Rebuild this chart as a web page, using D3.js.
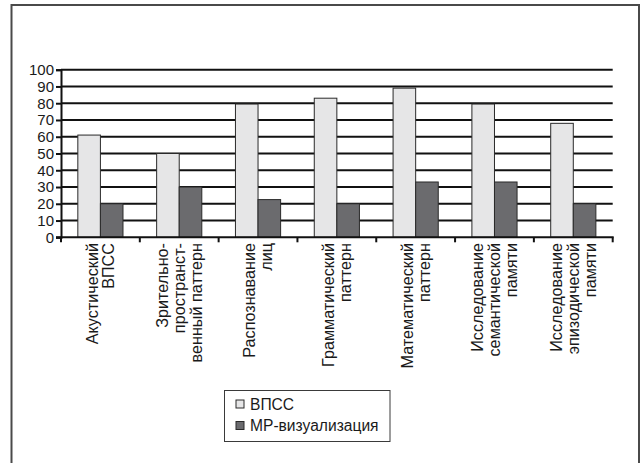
<!DOCTYPE html>
<html>
<head>
<meta charset="utf-8">
<script src="https://cdn.jsdelivr.net/npm/d3@7"></script>
<style>
  html, body { margin: 0; padding: 0; background: #fff; }
  svg { display: block; }
  text { font-family: "Liberation Sans", Arial, sans-serif; fill: #1a1a1a; }
</style>
</head>
<body>
<svg id="chart" width="642" height="463"></svg>
<script>
// Category labels, one entry per line of the rotated label
const categories = [
  ["Акустический", "ВПСС"],
  ["Зрительно-", "пространст-", "венный паттерн"],
  ["Распознавание", "лиц"],
  ["Грамматический", "паттерн"],
  ["Математический", "паттерн"],
  ["Исследование", "семантической", "памяти"],
  ["Исследование", "эпизодической", "памяти"]
];
const seriesNames = ["ВПСС", "МР-визуализация"];
const vpssValues = [61, 50, 79.5, 83, 89, 79.5, 68];
const mrValues = [20, 30, 22.5, 20, 33, 33, 20];
const yTicks = [0, 10, 20, 30, 40, 50, 60, 70, 80, 90, 100];
const colors = ["#e6e6e7", "#6b6b6e"];

const svg = d3.select("#chart");

// Outer frame (bottom edge runs off the page)
svg.append("rect")
  .attr("x", 11.5).attr("y", 5)
  .attr("width", 627.5).attr("height", 480)
  .attr("fill", "none").attr("stroke", "#4a4a4a").attr("stroke-width", 2);

const plot = { left: 61, right: 612.7, top: 69.7, bottom: 237.3 };

const x = d3.scaleBand()
  .domain(d3.range(categories.length))
  .range([plot.left, plot.right])
  .paddingInner(0).paddingOuter(0);

const inner = d3.scaleBand()
  .domain([0, 1])
  .range([0, x.bandwidth()])
  .paddingOuter(0.745).paddingInner(0);

const y = d3.scaleLinear().domain([0, 100]).range([plot.bottom, plot.top]);

// Horizontal gridlines
svg.append("g")
  .selectAll("line")
  .data(yTicks.filter(d => d > 0))
  .join("line")
  .attr("x1", plot.left).attr("x2", plot.right)
  .attr("y1", d => y(d)).attr("y2", d => y(d))
  .attr("stroke", "#111").attr("stroke-width", 2);

// Bars
const rows = categories.map((c, i) => [vpssValues[i], mrValues[i]]);
const groups = svg.append("g")
  .selectAll("g")
  .data(rows)
  .join("g")
  .attr("transform", (d, i) => `translate(${x(i)},0)`);

groups.selectAll("rect")
  .data(d => d.map((v, s) => ({ v, s })))
  .join("rect")
  .attr("x", d => inner(d.s))
  .attr("width", inner.bandwidth())
  .attr("y", d => y(d.v))
  .attr("height", d => y(0) - y(d.v))
  .attr("fill", d => colors[d.s])
  .attr("stroke", "#2a2a2a").attr("stroke-width", 1);

// Y axis
const yAxis = d3.axisLeft(y).tickValues(yTicks).tickSize(5).tickPadding(2).tickFormat(d3.format("d"));
const gy = svg.append("g")
  .attr("transform", `translate(${plot.left},0)`)
  .call(yAxis);
gy.select(".domain").attr("stroke", "#111").attr("stroke-width", 2);
gy.selectAll(".tick line").attr("stroke", "#111").attr("stroke-width", 2);
gy.selectAll(".tick text").style("font-size", "15px").attr("fill", "#1a1a1a");

// X axis: baseline with ticks at category boundaries
const gx = svg.append("g");
gx.append("line")
  .attr("x1", plot.left - 5).attr("x2", plot.right + 1)
  .attr("y1", plot.bottom).attr("y2", plot.bottom)
  .attr("stroke", "#111").attr("stroke-width", 2);
gx.selectAll("line.tk")
  .data(d3.range(categories.length + 1))
  .join("line")
  .attr("class", "tk")
  .attr("x1", i => i < categories.length ? x(i) : plot.right)
  .attr("x2", i => i < categories.length ? x(i) : plot.right)
  .attr("y1", plot.bottom).attr("y2", plot.bottom + 5)
  .attr("stroke", "#111").attr("stroke-width", 2);

// Rotated category labels
const lineH = 16.8;
const labels = svg.append("g")
  .selectAll("text")
  .data(categories)
  .join("text")
  .attr("transform", (d, i) => {
    const cx = x(i) + x.bandwidth() / 2;
    return `translate(${cx},243) rotate(-90)`;
  })
  .attr("text-anchor", "end")
  .style("font-size", "16.2px");
labels.each(function (lines) {
  const n = lines.length;
  d3.select(this).selectAll("tspan")
    .data(lines)
    .join("tspan")
    .attr("x", 0)
    .attr("y", (d, k) => (k - (n - 1) / 2) * lineH + 5.5)
    .text(d => d);
});

// Legend
const legend = svg.append("g");
legend.append("rect")
  .attr("x", 224.5).attr("y", 390.5)
  .attr("width", 165.5).attr("height", 51)
  .attr("fill", "#fff").attr("stroke", "#3a3a3a").attr("stroke-width", 1);
const items = legend.selectAll("g")
  .data(seriesNames)
  .join("g")
  .attr("transform", (d, i) => `translate(236,${400 + i * 21.5})`);
items.append("rect")
  .attr("width", 8).attr("height", 8)
  .attr("fill", (d, i) => colors[i])
  .attr("stroke", "#2a2a2a").attr("stroke-width", 1);
items.append("text")
  .attr("x", 14).attr("y", 9.5)
  .style("font-size", "15.6px")
  .text(d => d);
</script>
</body>
</html>
